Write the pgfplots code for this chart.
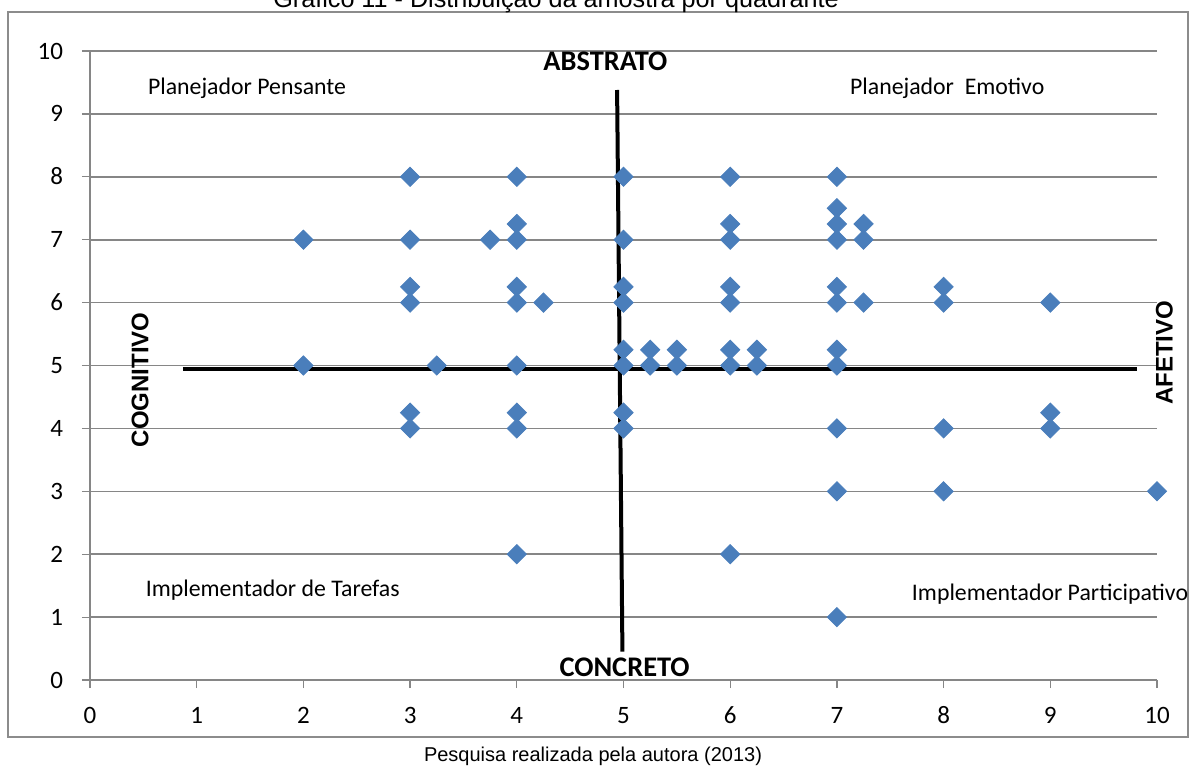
\documentclass[border=0pt]{standalone}
\usepackage{pgfplots}
\pgfplotsset{compat=1.18}
\usepackage{fontspec}
\setmainfont{Carlito}
\newfontfamily\arial{Liberation Sans}
\newfontfamily\calibri{Carlito}
\definecolor{ptblue}{RGB}{74,126,187}
\definecolor{gridgray}{RGB}{134,134,134}
\definecolor{framegray}{RGB}{140,140,140}

\pgfplotstableread{
x y
2 7
2 5
3 8
3 7
3 6.25
3 6
3 4.25
3 4
3.25 5
3.75 7
4 8
4 7.25
4 7
4 6.25
4 6
4 5
4 4.25
4 4
4 2
4.25 6
5 8
5 7
5 6.25
5 6
5 5.25
5 5
5 4.25
5 4
5.25 5.25
5.25 5
5.5 5.25
5.5 5
6 8
6 7.25
6 7
6 6.25
6 6
6 5.25
6 5
6 2
6.25 5.25
6.25 5
7 8
7 7.5
7 7.25
7 7
7 6.25
7 6
7 5.25
7 5
7 4
7 3
7 1
7.25 7.25
7.25 7
7.25 6
8 6.25
8 6
8 4
8 3
9 6
9 4.25
9 4
10 3
}\amostra

\begin{document}
\begin{tikzpicture}
\useasboundingbox (-45pt,-49pt) rectangle (550pt,340pt);
\clip (-45pt,-49pt) rectangle (550pt,340pt);
% chart frame
\draw[framegray, line width=1pt] (-41pt,-28.5pt) rectangle (549pt,334pt);
% title and source line
\node[anchor=base, font=\arial\fontsize{12.6}{14}\selectfont] at (233pt,336pt)
  {Gráfico 11 - Distribuição da amostra por quadrante};
\node[font=\arial\fontsize{10}{12}\selectfont] at (251.5pt,-38pt)
  {Pesquisa realizada pela autora (2013)};
\begin{axis}[
  at={(0pt,0pt)}, anchor=south west,
  scale only axis,
  width=533.5pt, height=314.5pt,
  xmin=0, xmax=10, ymin=0, ymax=10,
  xtick={0,...,10}, ytick={0,...,10},
  axis x line*=bottom, axis y line*=left,
  axis line style={gridgray, line width=0.6pt, -},
  tick align=outside,
  major tick length=4pt,
  tick style={gridgray, line width=0.6pt},
  ymajorgrids,
  major grid style={gridgray, line width=0.8pt},
  tick label style={font=\calibri\fontsize{12.5}{14}\selectfont},
  /pgf/number format/assume math mode=true,
  xticklabel style={anchor=north, text height=8pt, text depth=0pt, yshift=-6pt},
  yticklabel style={anchor=east, text height=8pt, text depth=0pt, xshift=-6pt},
  clip=false,
]
\addplot[only marks, mark=square*, mark size=3.4pt,
  mark options={rotate=45, fill=ptblue, draw=ptblue}]
  table[x=x, y=y] {\amostra};

% quadrant dividers
\draw[black, line width=2pt] (axis cs:4.94,9.38) -- (axis cs:4.99,0.45);
\draw[black, line width=2pt] (axis cs:0.87,4.94) -- (axis cs:9.81,4.94);

% axis poles
\node[font=\calibri\bfseries\fontsize{14.2}{16}\selectfont] at (axis cs:4.83,9.83) {ABSTRATO};
\node[font=\calibri\bfseries\fontsize{14.2}{16}\selectfont] at (axis cs:5.01,0.21) {CONCRETO};
\node[font=\arial\bfseries\fontsize{12}{14}\selectfont, rotate=90] at (axis cs:0.47,4.77) {COGNITIVO};
\node[font=\arial\bfseries\fontsize{12}{14}\selectfont, rotate=90] at (axis cs:10.07,5.20) {AFETIVO};

% quadrant names
\node[anchor=west, inner sep=0pt, font=\calibri\fontsize{11.9}{14}\selectfont] at (axis cs:0.54,9.40) {Planejador Pensante};
\node[anchor=west, inner sep=0pt, font=\calibri\fontsize{11.9}{14}\selectfont] at (axis cs:7.12,9.40) {Planejador\ \ Emotivo};
\node[anchor=west, inner sep=0pt, font=\calibri\fontsize{11.9}{14}\selectfont] at (axis cs:0.52,1.43) {Implementador de Tarefas};
\node[anchor=west, inner sep=0pt, font=\calibri\fontsize{11.9}{14}\selectfont] at (axis cs:7.70,1.37) {Implementador Participativo};
\end{axis}
\end{tikzpicture}
\end{document}
